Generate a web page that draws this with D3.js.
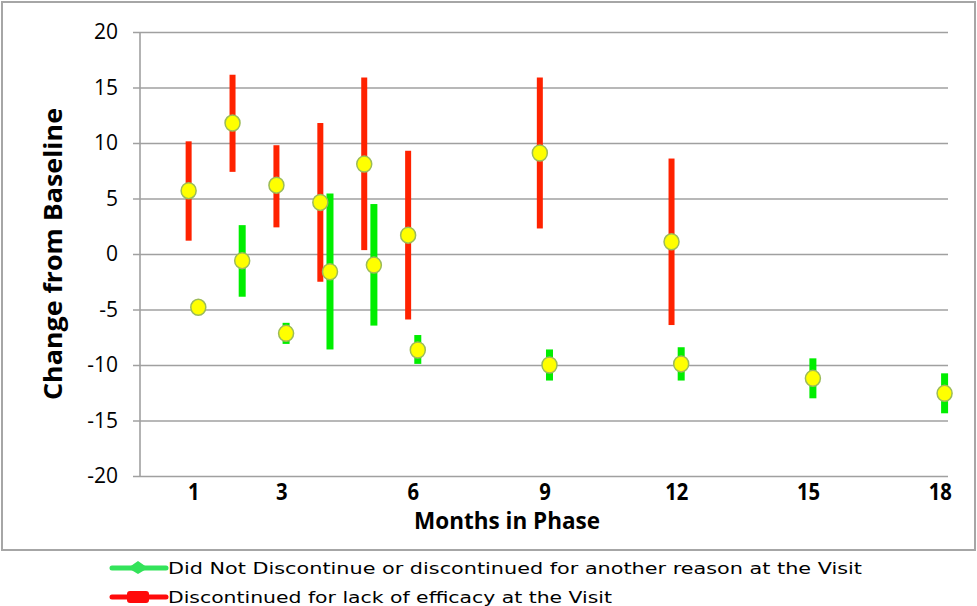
<!DOCTYPE html>
<html>
<head>
<meta charset="utf-8">
<script src="https://cdn.jsdelivr.net/npm/d3@7"></script>
<style>
  body { margin: 0; background: #fff; }
  svg { display: block; }
</style>
</head>
<body>
<svg width="977" height="606"></svg>
<script>
// months and values
var redMonths = [1, 2, 3, 4, 5, 6, 9, 12];
var redMean   = [5.7, 11.8, 6.2, 4.65, 8.1, 1.7, 9.1, 1.1];
var redHigh   = [10.15, 16.15, 9.8, 11.8, 15.9, 9.3, 15.9, 8.6];
var redLow    = [1.2, 7.4, 2.4, -2.5, 0.35, -5.9, 2.3, -6.4];

var greenMonths = [1, 2, 3, 4, 5, 6, 9, 12, 15, 18];
var greenMean   = [-4.8, -0.6, -7.15, -1.6, -1.0, -8.65, -10.0, -9.9, -11.2, -12.55];
var greenHigh   = [-4.6, 2.6, -6.2, 5.45, 4.5, -7.3, -8.6, -8.4, -9.4, -10.75];
var greenLow    = [-5.0, -3.85, -8.1, -8.6, -6.45, -9.9, -11.4, -11.4, -13.0, -14.35];

var xTicks = [1, 3, 6, 9, 12, 15, 18];
var yTicks = [-20, -15, -10, -5, 0, 5, 10, 15, 20];

var legendLabels = ['Did Not Discontinue  or discontinued for another reason at the Visit',
                    'Discontinued for lack of efficacy at the Visit'];

var init = function(){
  var svg = d3.select('svg');

  // outer frame
  svg.append('rect').attr('x', 2).attr('y', 2).attr('width', 973).attr('height', 548)
    .attr('fill', 'none').attr('stroke', '#a6a6a6').attr('stroke-width', 2);

  var x = d3.scaleLinear().domain([0, 18]).range([150, 940.2]);
  var y = d3.scaleLinear().domain([-20, 20]).range([476, 32]);

  // grid + y ticks
  var yAxis = d3.axisLeft(y).tickValues(yTicks).tickSize(-815).tickPadding(16)
    .tickFormat(function(d){ return String(d); });
  var gy = svg.append('g').attr('transform', 'translate(140,0)').call(yAxis);
  gy.select('.domain').remove();
  gy.selectAll('.tick line').attr('x1', -7).attr('x2', 808)
    .attr('stroke', '#a0a0a0').attr('stroke-width', 1.6);
  gy.selectAll('.tick text').attr('font-family', 'Open Sans, sans-serif')
    .attr('font-size', 21).attr('fill', '#000').attr('x', -22);

  // vertical axis line
  svg.append('line').attr('x1', 140).attr('x2', 140).attr('y1', y(20)).attr('y2', y(-20))
    .attr('stroke', '#a0a0a0').attr('stroke-width', 1.6);

  // x tick labels
  svg.append('g').selectAll('text').data(xTicks).enter().append('text')
    .attr('x', function(d){ return x(d); })
    .attr('y', 500)
    .attr('text-anchor', 'middle')
    .attr('font-family', 'Open Sans, sans-serif')
    .attr('font-weight', 'bold')
    .attr('font-size', 23)
    .attr('transform', function(d){ return 'translate(' + x(d) + ',0) scale(0.88,1) translate(' + (-x(d)) + ',0)'; })
    .text(function(d){ return d; });

  // axis titles
  svg.append('text').attr('x', 507).attr('y', 529).attr('text-anchor', 'middle')
    .attr('font-family', 'Open Sans, sans-serif').attr('font-weight', 'bold')
    .attr('font-size', 23).attr('textLength', 186).attr('lengthAdjust', 'spacingAndGlyphs')
    .text('Months in Phase');
  svg.append('text').attr('transform', 'translate(62,254) rotate(-90)')
    .attr('text-anchor', 'middle')
    .attr('font-family', 'Open Sans, sans-serif').attr('font-weight', 'bold')
    .attr('font-size', 25).attr('textLength', 292).attr('lengthAdjust', 'spacingAndGlyphs')
    .text('Change from Baseline');

  var red = d3.range(redMonths.length).map(function(i){
    return {m: redMonths[i] - 0.12, mean: redMean[i], hi: redHigh[i], lo: redLow[i]};
  });
  var green = d3.range(greenMonths.length).map(function(i){
    return {m: greenMonths[i] + 0.1, mean: greenMean[i], hi: greenHigh[i], lo: greenLow[i]};
  });

  var bars = svg.append('g');
  bars.selectAll('rect.red').data(red).enter().append('rect')
    .attr('x', function(d){ return x(d.m) - 3; })
    .attr('y', function(d){ return y(d.hi); })
    .attr('width', 6)
    .attr('height', function(d){ return y(d.lo) - y(d.hi); })
    .attr('fill', '#ff2200');
  bars.selectAll('rect.green').data(green).enter().append('rect')
    .attr('x', function(d){ return x(d.m) - 3.5; })
    .attr('y', function(d){ return y(d.hi); })
    .attr('width', 7)
    .attr('height', function(d){ return y(d.lo) - y(d.hi); })
    .attr('fill', '#00ee00');

  var dots = svg.append('g');
  dots.selectAll('ellipse').data(red.concat(green)).enter().append('ellipse')
    .attr('cx', function(d){ return x(d.m); })
    .attr('cy', function(d){ return y(d.mean); })
    .attr('rx', 7.5).attr('ry', 8)
    .attr('fill', '#ffff00').attr('stroke', '#9bbb59').attr('stroke-width', 1.5);

  // legend
  var lg = svg.append('g');
  var legendY = [568, 597];
  var legendCol = ['#33e35a', '#ff0a0a'];
  lg.selectAll('line').data(legendY).enter().append('line')
    .attr('x1', 112).attr('x2', 166)
    .attr('y1', function(d){ return d; }).attr('y2', function(d){ return d; })
    .attr('stroke', function(d, i){ return legendCol[i]; })
    .attr('stroke-width', 5).attr('stroke-linecap', 'round');
  lg.append('path')
    .attr('d', 'M128,' + legendY[0] + 'L138,' + (legendY[0] - 7) + 'L148,' + legendY[0] + 'L138,' + (legendY[0] + 6) + 'Z')
    .attr('fill', legendCol[0]);
  lg.append('rect').attr('x', 127).attr('y', legendY[1] - 6).attr('width', 22).attr('height', 12)
    .attr('rx', 3).attr('fill', legendCol[1]);
  lg.selectAll('text').data(legendLabels).enter().append('text')
    .attr('x', 168)
    .attr('y', function(d, i){ return legendY[i] + 6; })
    .attr('font-family', 'DejaVu Sans, sans-serif')
    .attr('font-size', 16.5)
    .attr('textLength', function(d, i){ return i === 0 ? 694 : 444; })
    .attr('lengthAdjust', 'spacingAndGlyphs')
    .text(function(d){ return d; });
};
init();
</script>
</body>
</html>
